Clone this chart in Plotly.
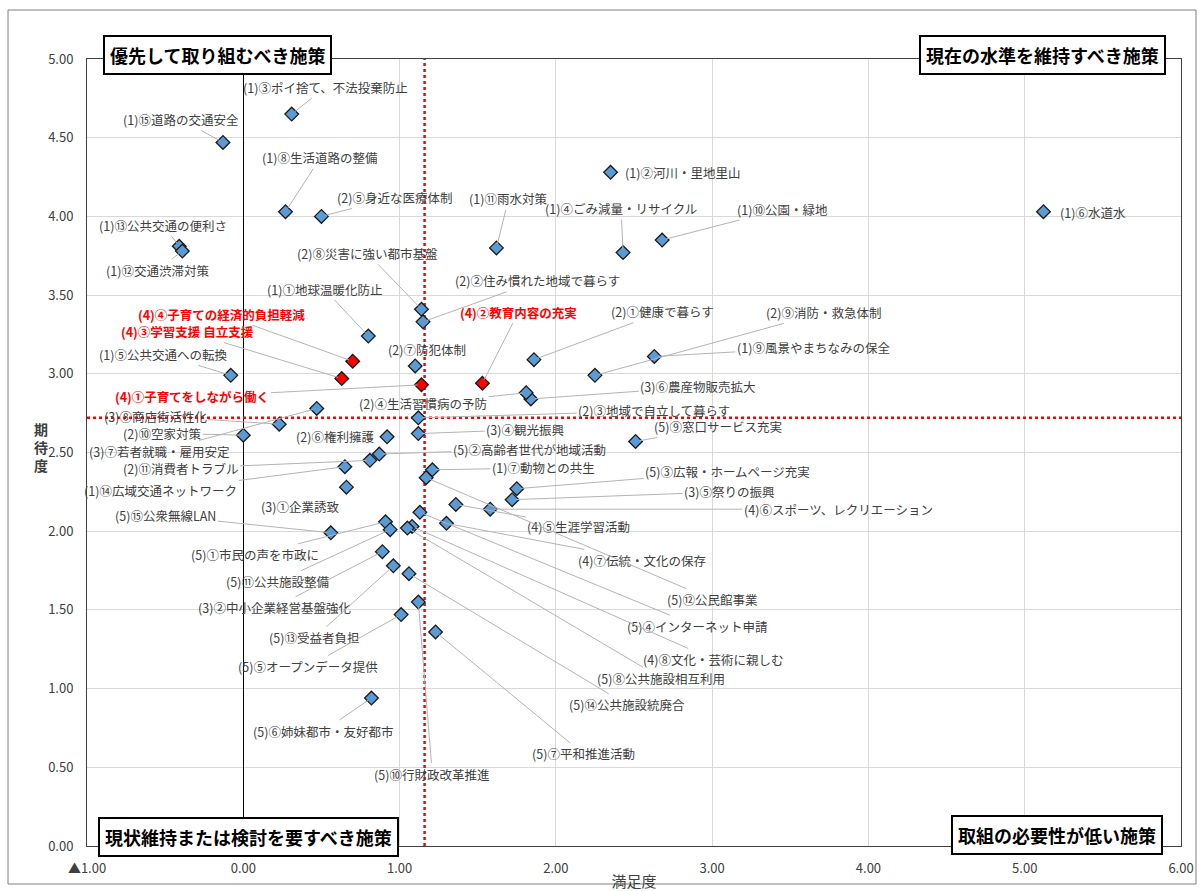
import plotly.graph_objects as go

# ---------------- data ----------------
labels = [
    "(1)③ポイ捨て、不法投棄防止", "(1)⑮道路の交通安全", "(1)⑧生活道路の整備", "(2)⑤身近な医療体制",
    "(1)⑬公共交通の便利さ", "(1)⑫交通渋滞対策", "(1)②河川・里地里山", "(1)⑪雨水対策",
    "(1)④ごみ減量・リサイクル", "(1)⑩公園・緑地", "(1)⑥水道水", "(2)⑧災害に強い都市基盤",
    "(2)②住み慣れた地域で暮らす", "(1)①地球温暖化防止", "(4)④子育ての経済的負担軽減", "(4)③学習支援 自立支援",
    "(2)⑦防犯体制", "(4)①子育てをしながら働く", "(4)②教育内容の充実", "(2)①健康で暮らす",
    "(2)⑨消防・救急体制", "(1)⑨風景やまちなみの保全", "(3)⑥農産物販売拡大", "(2)④生活習慣病の予防",
    "(1)⑤公共交通への転換", "(3)⑧商店街活性化", "(3)⑦若者就職・雇用安定", "(2)⑩空家対策",
    "(2)⑥権利擁護", "(2)③地域で自立して暮らす", "(3)④観光振興", "(5)②高齢者世代が地域活動",
    "(2)⑪消費者トラブル", "(1)⑭広域交通ネットワーク", "(3)①企業誘致", "(1)⑦動物との共生",
    "(5)⑨窓口サービス充実", "(5)③広報・ホームページ充実", "(3)⑤祭りの振興", "(4)⑥スポーツ、レクリエーション",
    "(4)⑤生涯学習活動", "(5)⑮公衆無線LAN", "(5)①市民の声を市政に", "(5)⑪公共施設整備",
    "(3)②中小企業経営基盤強化", "(5)⑬受益者負担", "(5)⑤オープンデータ提供", "(5)⑥姉妹都市・友好都市",
    "(5)⑩行財政改革推進", "(5)⑦平和推進活動", "(4)⑦伝統・文化の保存", "(5)⑫公民館事業",
    "(5)④インターネット申請", "(4)⑧文化・芸術に親しむ", "(5)⑧公共施設相互利用", "(5)⑭公共施設統廃合",
]
satisfaction = [
    0.31, -0.13, 0.27, 0.50,
    -0.41, -0.39, 2.35, 1.62,
    2.43, 2.68, 5.12, 1.14,
    1.15, 0.80, 0.70, 0.63,
    1.10, 1.14, 1.53, 1.86,
    2.25, 2.63, 1.84, 1.81,
    -0.08, 0.23, 0.47, 0.00,
    0.92, 1.12, 1.12, 0.87,
    0.81, 0.65, 0.66, 1.21,
    2.51, 1.75, 1.72, 1.58,
    1.36, 0.56, 0.91, 0.94,
    0.89, 0.96, 1.01, 0.82,
    1.12, 1.23, 1.30, 1.17,
    1.13, 1.08, 1.05, 1.06,
]
expectation = [
    4.65, 4.47, 4.03, 4.00,
    3.81, 3.78, 4.28, 3.80,
    3.77, 3.85, 4.03, 3.41,
    3.33, 3.24, 3.08, 2.97,
    3.05, 2.93, 2.94, 3.09,
    2.99, 3.11, 2.84, 2.88,
    2.99, 2.68, 2.78, 2.61,
    2.60, 2.72, 2.62, 2.49,
    2.45, 2.41, 2.28, 2.39,
    2.57, 2.27, 2.20, 2.14,
    2.17, 1.99, 2.06, 2.01,
    1.87, 1.78, 1.47, 0.94,
    1.55, 1.36, 2.05, 2.34,
    2.12, 2.03, 2.02, 1.73,
]
highlighted = ["(4)④子育ての経済的負担軽減", "(4)③学習支援 自立支援", "(4)①子育てをしながら働く", "(4)②教育内容の充実"]

avg_satisfaction = 1.16
avg_expectation = 2.72

x_tickvals = [-1, 0, 1, 2, 3, 4, 5, 6]
x_ticktext = ["▲1.00", "0.00", "1.00", "2.00", "3.00", "4.00", "5.00", "6.00"]
y_tickvals = [0, 0.5, 1, 1.5, 2, 2.5, 3, 3.5, 4, 4.5, 5]
y_ticktext = ["0.00", "0.50", "1.00", "1.50", "2.00", "2.50", "3.00", "3.50", "4.00", "4.50", "5.00"]

quadrants = ["優先して取り組むべき施策", "現在の水準を維持すべき施策", "現状維持または検討を要すべき施策", "取組の必要性が低い施策"]

# ---------------- label placement (pixel offsets of label centre, leader?) ----------------
label_offsets = [
    (34, -27, 1), (-42, -23, 1), (35, -54, 1), (73, -19, 1),
    (-16, -21, 1), (-25, 19, 1), (72, 0, 0), (12, -49, 1),
    (-2, -44, 1), (120, -31, 1), (50, 1, 0), (-54, -56, 1),
    (114, -41, 1), (-44, -47, 1), (-131, -47, 1), (-154, -47, 1),
    (12, -16, 0), (-229, 12, 1), (36, -71, 1), (129, -48, 1),
    (229, -63, 1), (159, -9, 1), (167, -12, 1), (-103, 11, 1),
    (-68, -21, 1), (-124, -8, 1), (-158, 43, 1), (-81, -2, 1),
    (-52, 0, 0), (236, -7, 1), (107, -4, 1), (150, -5, 1),
    (-189, 8, 1), (-184, 24, 1), (-46, 19, 0), (111, -2, 1),
    (82, -15, 1), (211, -17, 1), (217, -8, 1), (348, 0, 1),
    (123, 22, 1), (-165, -17, 1), (-131, 33, 1), (-113, 52, 1),
    (-108, 56, 1), (-79, 72, 1), (-93, 52, 1), (-48, 33, 1),
    (14, 172, 1), (148, 122, 1), (196, 37, 1), (286, 122, 1),
    (277, 114, 1), (301, 133, 1), (254, 150, 1), (218, 131, 1),
]

FONT = "Noto Sans CJK JP"
W, H = 1204, 891
L, R, T, B = 87, 23, 59, 45
PW, PH = W - L - R, H - T - B


def px_to_paper(px, py):
    return (px - L) / PW, (H - B - py) / PH


fig = go.Figure()

# average lines (red dotted)
fig.add_trace(go.Scatter(x=[avg_satisfaction, avg_satisfaction], y=[0, 5], mode="lines",
                         line=dict(color="#ff0000", width=2.5, dash="dot"), hoverinfo="skip", showlegend=False))
fig.add_trace(go.Scatter(x=[-1, 6], y=[avg_expectation, avg_expectation], mode="lines",
                         line=dict(color="#ff0000", width=2.5, dash="dot"), hoverinfo="skip", showlegend=False))

colors = ["#ff0000" if lb in highlighted else "#5b9bd5" for lb in labels]
fig.add_trace(go.Scatter(
    x=satisfaction, y=expectation, mode="markers", text=labels,
    marker=dict(symbol="diamond", size=10.5, color=colors, line=dict(color="#1a1a1a", width=1.3)),
    showlegend=False, hovertemplate="%{text}<br>満足度 %{x:.2f}<br>期待度 %{y:.2f}<extra></extra>"))

annotations = []
for lb, xv, yv, (dx, dy, lead) in zip(labels, satisfaction, expectation, label_offsets):
    red = lb in highlighted
    annotations.append(dict(
        x=xv, y=yv, xref="x", yref="y", ax=dx, ay=dy, axref="pixel", ayref="pixel",
        text=f"<b>{lb}</b>" if red else lb, showarrow=True, arrowhead=0, arrowwidth=1,
        arrowcolor="#b4b4b4" if lead else "rgba(0,0,0,0)", standoff=4, startstandoff=0,
        font=dict(family=FONT, size=12.5, color="#ff0000" if red else "#404040"),
    ))

# quadrant boxes
quad_pos = [(217.5, 55.5), (1042.5, 55.5), (248, 836.5), (1057, 835)]
for q, (cx, cy) in zip(quadrants, quad_pos):
    px_, py_ = px_to_paper(cx, cy)
    annotations.append(dict(
        x=px_, y=py_, xref="paper", yref="paper", text=f"<b>{q}</b>", showarrow=False,
        xanchor="center", yanchor="middle", bgcolor="white", bordercolor="#000000", borderwidth=2,
        borderpad=5, font=dict(family=FONT, size=18, color="#000000")))

# y-axis title (vertical stacked)
yx, yy = px_to_paper(32, 447)
annotations.append(dict(x=yx, y=yy, xref="paper", yref="paper", text="<b>期<br>待<br>度</b>", showarrow=False,
                        font=dict(family=FONT, size=14, color="#404040"), align="center"))

fig.update_layout(
    width=W, height=H, margin=dict(l=L, r=R, t=T, b=B, autoexpand=False),
    paper_bgcolor="white", plot_bgcolor="white",
    font=dict(family=FONT, color="#404040"),
    annotations=annotations,
    xaxis=dict(range=[-1, 6], tickvals=x_tickvals, ticktext=x_ticktext, showgrid=True, gridcolor="#d9d9d9",
               gridwidth=1, zeroline=True, zerolinecolor="#000000", zerolinewidth=1,
               showline=True, linecolor="#404040", linewidth=1, mirror=True, ticks="",
               tickfont=dict(family=FONT, size=13, color="#404040"), ticklabelstandoff=10,
               title=dict(text="満足度", font=dict(family=FONT, size=15, color="#404040"), standoff=4),
               automargin=False, fixedrange=True),
    yaxis=dict(range=[0, 5], tickvals=y_tickvals, ticktext=y_ticktext, showgrid=True, gridcolor="#d9d9d9",
               gridwidth=1, zeroline=False, showline=True, linecolor="#404040", linewidth=1, mirror=True,
               ticks="", tickfont=dict(family=FONT, size=13, color="#404040"), ticklabelstandoff=10,
               automargin=False, fixedrange=True),
    shapes=[dict(type="rect", xref="paper", yref="paper",
                 x0=px_to_paper(8, 10)[0], y0=px_to_paper(8, 884)[1],
                 x1=px_to_paper(1196, 10)[0], y1=px_to_paper(8, 10)[1],
                 line=dict(color="#7f7f7f", width=1), layer="below")],
)

fig.write_html("out.html", config={"displayModeBar": False},
               post_script="document.body.style.margin='0px';")
